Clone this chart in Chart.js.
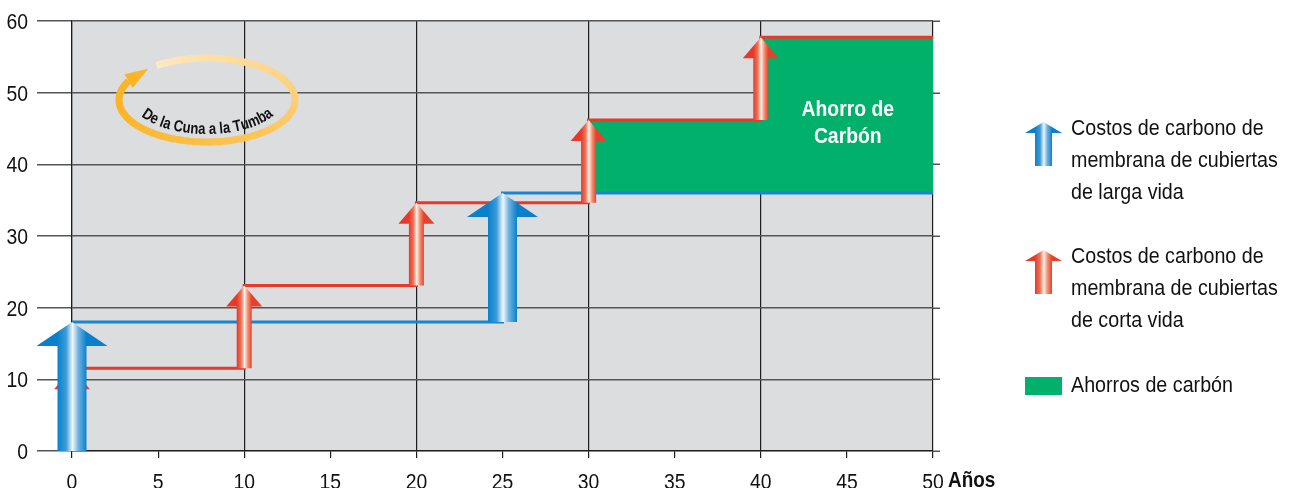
<!DOCTYPE html>
<html>
<head>
<meta charset="utf-8">
<script src="https://cdn.jsdelivr.net/npm/chart.js@4.4.1/dist/chart.umd.min.js"></script>
<style>
  html, body { margin: 0; padding: 0; background: #fff; overflow: hidden; }
  #wrap { position: relative; width: 1294px; height: 488px; }
</style>
</head>
<body>
<div id="wrap"><canvas id="c" width="1294" height="488"></canvas></div>
<script>
const FONT = '"Liberation Sans", Arial, Roboto, sans-serif';
const NARROW = 0.895; // horizontal squeeze for a condensed look

// Short-life roofing membrane: replaced every 10 years, cumulative carbon cost
const shortLifeYears = [0, 10, 20, 30, 40, 50];
const shortLifeCost = [11.55, 23.1, 34.65, 46.2, 57.75, 57.75];

// Long-life roofing membrane: installed at year 0, reroofed once at year 25
const longLifeYears = [0, 25, 50];
const longLifeCost = [18, 36, 36];

// Carbon savings band (between the two cumulative curves)
const savingsYears = [30, 40, 50];
const savingsTop = [46.2, 57.75, 57.75];
const savingsBase = 36;

const xTickValues = [0, 5, 10, 15, 20, 25, 30, 35, 40, 45, 50];
const yTickValues = [0, 10, 20, 30, 40, 50, 60];

const legendLong = ['Costos de carbono de', 'membrana de cubiertas', 'de larga vida'];
const legendShort = ['Costos de carbono de', 'membrana de cubiertas', 'de corta vida'];
const legendSavings = 'Ahorros de carbón';
const savingsLabel = ['Ahorro de', 'Carbón'];
const cycleLabel = 'De la Cuna a la Tumba';
const xAxisLabel = 'Años';

const BLUE = '#1787d2';
const RED = '#e8392b';
const GREEN = '#00b06b';

const toPoints = (xs, ys) => xs.map((x, i) => ({ x, y: ys[i] }));

// Arrows mark each replacement: from the previous cumulative level up to the new one
function arrowsFrom(xs, ys) {
  const out = [];
  for (let i = 0; i < xs.length; i++) {
    const prev = i === 0 ? 0 : ys[i - 1];
    if (ys[i] !== prev) out.push({ x: xs[i], from: prev, to: ys[i] });
  }
  return out;
}

function shaftGradient(ctx, left, right, kind) {
  const g = ctx.createLinearGradient(left, 0, right, 0);
  if (kind === 'blue') {
    g.addColorStop(0, '#0a80cc');
    g.addColorStop(0.3, '#3d9bd8');
    g.addColorStop(0.52, '#f2f7fc');
    g.addColorStop(0.72, '#6fb2e2');
    g.addColorStop(1, '#0a80cc');
  } else {
    g.addColorStop(0, '#e6392a');
    g.addColorStop(0.3, '#ef7457');
    g.addColorStop(0.52, '#fff2ea');
    g.addColorStop(0.74, '#f48e70');
    g.addColorStop(1, '#e6412c');
  }
  return g;
}

function drawArrow(ctx, cx, yBottom, yTip, shaftW, headW, headH, kind) {
  const l = cx - shaftW / 2, r = cx + shaftW / 2;
  ctx.save();
  ctx.fillStyle = shaftGradient(ctx, l, r, kind);
  ctx.beginPath();
  ctx.moveTo(l, yBottom);
  ctx.lineTo(l, yTip + headH);
  ctx.lineTo(cx - headW / 2, yTip + headH);
  ctx.lineTo(cx, yTip);
  ctx.lineTo(cx + headW / 2, yTip + headH);
  ctx.lineTo(r, yTip + headH);
  ctx.lineTo(r, yBottom);
  ctx.closePath();
  ctx.fill();
  ctx.restore();
}

// text squeezed horizontally around its anchor
function narrowText(ctx, s, x, y, align, squeeze) {
  ctx.save();
  ctx.translate(x, y);
  ctx.scale(squeeze || NARROW, 1);
  ctx.textAlign = align || 'left';
  ctx.fillText(s, 0, 0);
  ctx.restore();
}

const backgroundPlugin = {
  id: 'plotBackground',
  beforeDraw(chart) {
    const { ctx, chartArea: a, scales } = chart;
    ctx.save();
    ctx.fillStyle = '#dcdddf';
    ctx.fillRect(a.left, a.top, a.right - a.left, a.bottom - a.top);
    // short overhang of the horizontal rules past the right edge
    ctx.strokeStyle = '#555';
    ctx.lineWidth = 1.5;
    yTickValues.forEach(v => {
      const y = Math.round(scales.y.getPixelForValue(v)) + 0.25;
      ctx.beginPath();
      ctx.moveTo(a.right, y);
      ctx.lineTo(a.right + 7, y);
      ctx.stroke();
    });
    ctx.restore();
  }
};

// tick labels drawn from the scales' own ticks, in the condensed style
const tickLabelPlugin = {
  id: 'tickLabels',
  afterDraw(chart) {
    const { ctx, scales: { x, y } } = chart;
    ctx.save();
    ctx.fillStyle = '#111';
    ctx.font = '22px ' + FONT;
    ctx.textBaseline = 'alphabetic';
    x.ticks.forEach(t => narrowText(ctx, String(t.value), x.getPixelForValue(t.value), 488.5, 'center', 0.88));
    ctx.textBaseline = 'middle';
    y.ticks.forEach(t => narrowText(ctx, String(t.value), 28, y.getPixelForValue(t.value) + 2, 'right', 0.88));
    ctx.restore();
  }
};

const arrowsPlugin = {
  id: 'replacementArrows',
  afterDatasetsDraw(chart) {
    const { ctx, scales: { x, y } } = chart;
    arrowsFrom(shortLifeYears, shortLifeCost).forEach(a => {
      drawArrow(ctx, x.getPixelForValue(a.x), y.getPixelForValue(a.from), y.getPixelForValue(a.to), 15, 36, 21, 'red');
    });
    arrowsFrom(longLifeYears, longLifeCost).forEach(a => {
      drawArrow(ctx, x.getPixelForValue(a.x), y.getPixelForValue(a.from), y.getPixelForValue(a.to), 29, 71, 24, 'blue');
    });
  }
};

function lerpColor(c1, c2, t) {
  const p = c => [1, 3, 5].map(i => parseInt(c.slice(i, i + 2), 16));
  const a = p(c1), b = p(c2);
  return 'rgb(' + a.map((v, i) => Math.round(v + (b[i] - v) * t)).join(',') + ')';
}

const decorPlugin = {
  id: 'decor',
  afterDraw(chart) {
    const { ctx, scales: { x } } = chart;
    ctx.save();
    ctx.textBaseline = 'alphabetic';

    // savings label inside the green band
    ctx.fillStyle = '#ffffff';
    ctx.font = 'bold 22px ' + FONT;
    const lx = x.getPixelForValue(45.05);
    narrowText(ctx, savingsLabel[0], lx, 116, 'center', 0.88);
    narrowText(ctx, savingsLabel[1], lx, 143, 'center', 0.88);

    // axis unit
    ctx.fillStyle = '#111';
    ctx.font = 'bold 22px ' + FONT;
    narrowText(ctx, xAxisLabel, 948, 487, 'left', 0.86);

    // cradle-to-grave cycle
    const cx = 207, cy = 100, rx = 88, ry = 42;
    const t0 = -125 * Math.PI / 180, t1 = 207 * Math.PI / 180;
    const steps = 160;
    ctx.lineWidth = 7;
    ctx.lineCap = 'butt';
    for (let i = 0; i < steps; i++) {
      const a0 = t0 + (t1 - t0) * i / steps;
      const a1 = t0 + (t1 - t0) * (i + 1.3) / steps;
      const f = i / steps;
      ctx.strokeStyle = lerpColor('#fde9c6', '#fbb424', Math.min(1, Math.pow(f, 0.8) * 1.1));
      ctx.beginPath();
      ctx.ellipse(cx, cy, rx, ry, 0, a0, Math.min(a1, t1));
      ctx.stroke();
    }
    // arrow head at the end of the loop
    const tipT = 228 * Math.PI / 180;
    const baseT = 207 * Math.PI / 180;
    const tip = [cx + rx * Math.cos(tipT), cy + ry * Math.sin(tipT)];
    const base = [cx + rx * Math.cos(baseT), cy + ry * Math.sin(baseT)];
    const dx = tip[0] - base[0], dy = tip[1] - base[1];
    const len = Math.hypot(dx, dy);
    const nx = -dy / len, ny = dx / len;
    ctx.fillStyle = '#fbb424';
    ctx.beginPath();
    ctx.moveTo(tip[0], tip[1]);
    ctx.lineTo(base[0] + nx * 8, base[1] + ny * 8);
    ctx.lineTo(base[0] - nx * 8, base[1] - ny * 8);
    ctx.closePath();
    ctx.fill();

    // curved caption along the lower inside of the loop
    const CAP = 0.82;
    ctx.fillStyle = '#111';
    ctx.font = 'bold 16px ' + FONT;
    const trx = 76, try_ = 36, tcy = 98;
    const widthOf = s => ctx.measureText(s).width * CAP;
    const total = widthOf(cycleLabel);
    const ptAt = t => [cx + trx * Math.cos(t), tcy + try_ * Math.sin(t)];
    // walk along the ellipse by arc length, centred on the bottom point
    let t = Math.PI / 2, acc = 0;
    const dt = 0.001;
    while (acc < total / 2) {
      const p = ptAt(t), q = ptAt(t + dt);
      acc += Math.hypot(q[0] - p[0], q[1] - p[1]);
      t += dt;
    }
    let pos = 0;
    cycleLabel.split('').forEach(ch => {
      const w = widthOf(ch);
      const target = pos + w / 2;
      let tt = t, s = 0;
      while (s < target) {
        const p = ptAt(tt), q = ptAt(tt - dt);
        s += Math.hypot(q[0] - p[0], q[1] - p[1]);
        tt -= dt;
      }
      const p = ptAt(tt);
      const ang = Math.atan2(-try_ * Math.cos(tt), trx * Math.sin(tt));
      ctx.save();
      ctx.translate(p[0], p[1]);
      ctx.rotate(ang);
      ctx.scale(CAP, 1);
      ctx.textAlign = 'center';
      ctx.fillText(ch, 0, 0);
      ctx.restore();
      pos += w;
    });

    // legend
    ctx.font = '22px ' + FONT;
    ctx.fillStyle = '#111';
    drawArrow(ctx, 1043.5, 166, 122, 17, 37, 11, 'blue');
    legendLong.forEach((s, i) => narrowText(ctx, s, 1071, 135 + i * 32, 'left'));
    drawArrow(ctx, 1043.5, 294, 250, 17, 37, 11, 'red');
    legendShort.forEach((s, i) => narrowText(ctx, s, 1071, 263 + i * 32, 'left'));
    ctx.fillStyle = GREEN;
    ctx.fillRect(1025, 377, 37, 18);
    ctx.fillStyle = '#111';
    narrowText(ctx, legendSavings, 1071, 392, 'left');

    ctx.restore();
  }
};

new Chart(document.getElementById('c'), {
  type: 'line',
  data: {
    datasets: [
      {
        label: 'Larga vida',
        data: toPoints(longLifeYears, longLifeCost),
        borderColor: BLUE,
        borderWidth: 3,
        stepped: true,
        pointRadius: 0,
        fill: false
      },
      {
        label: 'Corta vida',
        data: toPoints(shortLifeYears, shortLifeCost),
        borderColor: RED,
        borderWidth: 3,
        stepped: true,
        pointRadius: 0,
        fill: false
      },
      {
        label: 'Ahorro',
        data: toPoints(savingsYears, savingsTop),
        borderWidth: 0,
        borderColor: 'rgba(0,0,0,0)',
        backgroundColor: GREEN,
        stepped: true,
        pointRadius: 0,
        fill: { value: savingsBase }
      }
    ]
  },
  options: {
    responsive: false,
    animation: false,
    layout: { padding: { top: 21, right: 361, left: 0, bottom: 0 } },
    plugins: { legend: { display: false }, tooltip: { enabled: false } },
    scales: {
      x: {
        type: 'linear',
        min: 0,
        max: 50,
        afterBuildTicks: s => { s.ticks = xTickValues.map(v => ({ value: v })); },
        afterFit: s => { s.height = 37; },
        grid: {
          color: c => (c.tick && c.tick.value % 10 === 0) ? '#1e1e1e' : 'rgba(0,0,0,0)',
          tickColor: '#1e1e1e',
          tickLength: 7,
          lineWidth: 1.2
        },
        border: { display: true, color: '#1e1e1e', width: 1.2 },
        ticks: { display: false }
      },
      y: {
        min: 0,
        max: 60,
        afterBuildTicks: s => { s.ticks = yTickValues.map(v => ({ value: v })); },
        afterFit: s => { s.width = 72; },
        grid: { color: '#555', tickLength: 35, lineWidth: 1.5 },
        border: { display: true, color: '#1e1e1e', width: 1.2 },
        ticks: { display: false }
      }
    }
  },
  plugins: [backgroundPlugin, arrowsPlugin, tickLabelPlugin, decorPlugin]
});
</script>
</body>
</html>
